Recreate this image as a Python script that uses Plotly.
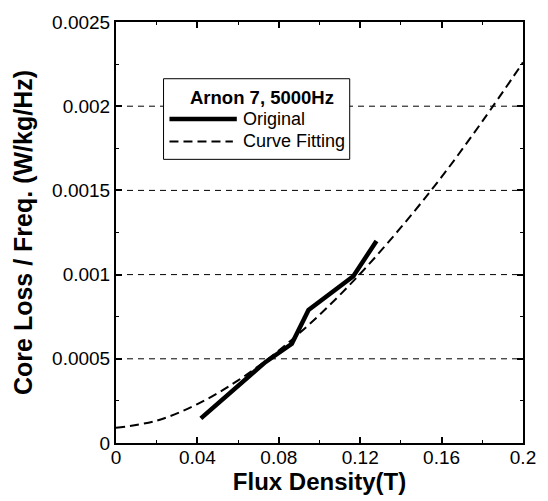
import plotly.graph_objects as go

# Data
orig_x = [0.0417, 0.051, 0.0604, 0.0734, 0.0864, 0.0946, 0.1166, 0.128]
orig_y = [0.000146, 0.000245, 0.000343, 0.00048, 0.000589, 0.00079, 0.00099, 0.0012]

fit_x = [0, 0.02, 0.04, 0.06, 0.08, 0.10, 0.12, 0.14, 0.16, 0.18, 0.20]
fit_y = [0.00009, 0.000133, 0.000231, 0.000372, 0.000549, 0.000761, 0.001005, 0.00128, 0.00158, 0.00191, 0.00226]

x_ticks = [0, 0.04, 0.08, 0.12, 0.16, 0.2]
x_ticktext = ["0", "0.04", "0.08", "0.12", "0.16", "0.2"]
y_ticks = [0, 0.0005, 0.001, 0.0015, 0.002, 0.0025]
y_ticktext = ["0", "0.0005", "0.001", "0.0015", "0.002", "0.0025"]

legend_title = "Arnon 7, 5000Hz"
name_orig = "Original"
name_fit = "Curve Fitting"

FONT = "Liberation Sans, Arial, sans-serif"

fig = go.Figure()

# horizontal dashed gridlines
for yv in y_ticks[1:-1]:
    fig.add_shape(type="line", xref="paper", yref="y", x0=0, x1=1, y0=yv, y1=yv,
                  line=dict(color="black", width=1, dash="6px,5px"), layer="below")

fig.add_trace(go.Scatter(x=fit_x, y=fit_y, mode="lines", name=name_fit,
                         line=dict(color="black", width=2, dash="9px,5px", shape="spline"),
                         showlegend=False))
fig.add_trace(go.Scatter(x=orig_x, y=orig_y, mode="lines", name=name_orig,
                         line=dict(color="black", width=4.5),
                         showlegend=False))

# manual legend (paper coordinates)
L, R, T, B = 116, 527, 20, 443
def px(x):
    return (x - L) / (R - L)
def py(y):
    return (B - y) / (B - T)

fig.add_shape(type="rect", xref="paper", yref="paper",
              x0=px(164), x1=px(352), y0=py(158), y1=py(77),
              line=dict(color="black", width=1), fillcolor="white", layer="above")
fig.add_shape(type="line", xref="paper", yref="paper",
              x0=px(170), x1=px(238), y0=py(117.5), y1=py(117.5),
              line=dict(color="black", width=4.5), layer="above")
fig.add_shape(type="line", xref="paper", yref="paper",
              x0=px(170), x1=px(234), y0=py(140), y1=py(140),
              line=dict(color="black", width=2, dash="9px,5px"), layer="above")
fig.add_annotation(xref="paper", yref="paper", x=px(263), y=py(96), text="<b>" + legend_title + "</b>",
                   showarrow=False, xanchor="center", yanchor="middle",
                   font=dict(family=FONT, size=18.5, color="black"))
fig.add_annotation(xref="paper", yref="paper", x=px(242), y=py(117), text=name_orig,
                   showarrow=False, xanchor="left", yanchor="middle",
                   font=dict(family=FONT, size=18, color="black"))
fig.add_annotation(xref="paper", yref="paper", x=px(242), y=py(140), text=name_fit,
                   showarrow=False, xanchor="left", yanchor="middle",
                   font=dict(family=FONT, size=18, color="black"))

fig.update_layout(
    width=548, height=501,
    margin=dict(l=L, r=548 - R, t=T, b=501 - B),
    paper_bgcolor="white", plot_bgcolor="white",
    font=dict(family=FONT, size=19, color="black"),
    showlegend=False,
)
fig.update_xaxes(
    range=[0, 0.2], tickvals=x_ticks, ticktext=x_ticktext,
    showgrid=False, zeroline=False,
    showline=True, linecolor="black", linewidth=2, mirror="ticks",
    ticks="inside", ticklen=6, tickwidth=1.5, tickcolor="black",
    minor=dict(ticks="inside", ticklen=3, tickwidth=1, tickcolor="black", dtick=0.02, showgrid=False),
    tickfont=dict(family=FONT, size=19, color="black"),
    ticklabelstandoff=-4,
    title=dict(text="<b>Flux Density(T)</b>", font=dict(family=FONT, size=24, color="black"), standoff=4),
)
fig.update_yaxes(
    range=[0, 0.0025], tickvals=y_ticks, ticktext=y_ticktext,
    showgrid=False, zeroline=False,
    showline=True, linecolor="black", linewidth=2, mirror="ticks",
    ticks="inside", ticklen=6, tickwidth=1.5, tickcolor="black",
    minor=dict(ticks="inside", ticklen=3, tickwidth=1, tickcolor="black", dtick=0.00025, showgrid=False),
    tickfont=dict(family=FONT, size=19, color="black"),
    title=dict(text="<b>Core Loss / Freq. (W/kg/Hz)</b>", font=dict(family=FONT, size=25, color="black"), standoff=12),
)

fig.write_html("out.html")
